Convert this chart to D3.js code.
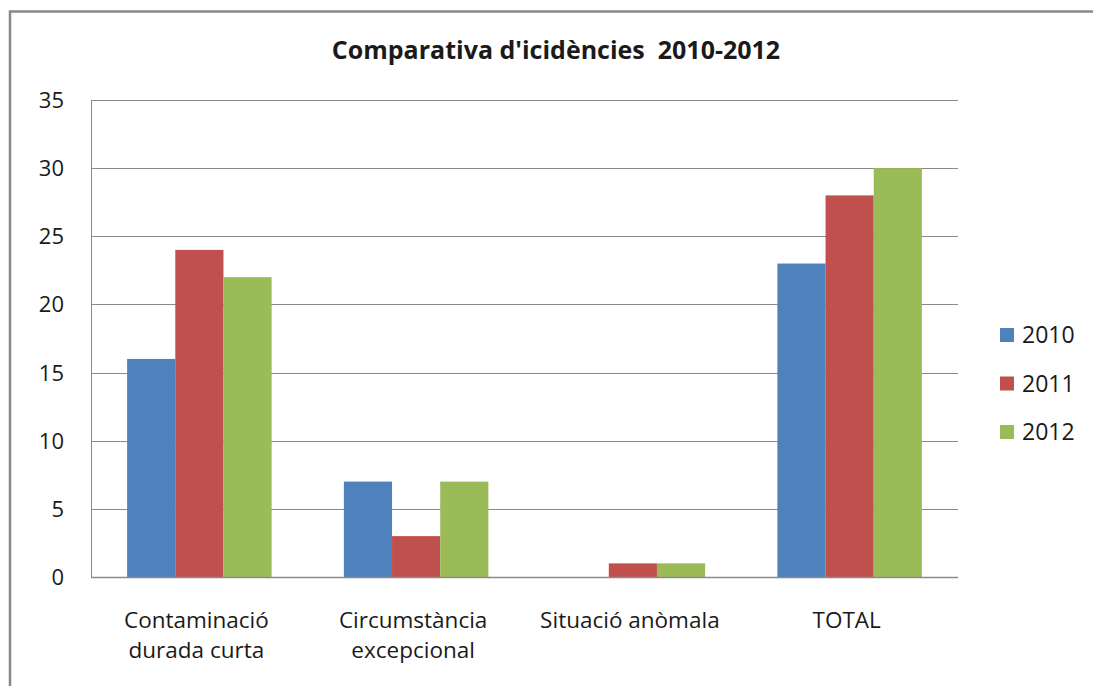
<!DOCTYPE html>
<html>
<head>
<meta charset="utf-8" />
<title>Comparativa d'icidències</title>
<style>
  body { margin: 0; background: #fff; }
  text { font-family: "Open Sans", "DejaVu Sans", sans-serif; fill: #1a1a1a; }
</style>
</head>
<body>
<svg id="chart"></svg>
<script src="https://cdn.jsdelivr.net/npm/d3@7"></script>
<script>

var categories = [["Contaminació", "durada curta"], ["Circumstància", "excepcional"], ["Situació anòmala"], ["TOTAL"]];
var years = ["2010", "2011", "2012"];
var values2010 = [16, 7, 0, 23];
var values2011 = [24, 3, 1, 28];
var values2012 = [22, 7, 1, 30];
var yTicks = [0, 5, 10, 15, 20, 25, 30, 35];
var colors = ["#4f81bd", "#c0504d", "#9bbb59"];

var series = [values2010, values2011, values2012];

var width = 1093, height = 686;
var pLeft = 91, pRight = 958, pTop = 100, pBottom = 577;

var svg = d3.select("#chart")
            .attr("width", width)
            .attr("height", height);

// chart border
svg.append("rect")
   .attr("x", 10).attr("y", 11.5)
   .attr("width", width + 20).attr("height", height + 20)
   .attr("fill", "none")
   .attr("stroke", "#888")
   .attr("stroke-width", 2.5);

var x = d3.scaleBand()
          .domain(d3.range(categories.length))
          .range([pLeft, pRight]);

var barW = x.bandwidth() / 4.5;
var xs = d3.scaleBand()
           .domain(years)
           .range([barW * 0.75, x.bandwidth() - barW * 0.75]);

var y = d3.scaleLinear()
          .domain([0, 35])
          .range([pBottom, pTop]);

// gridlines
svg.append("g")
   .selectAll("line")
   .data(yTicks)
   .enter().append("line")
   .attr("x1", pLeft).attr("x2", pRight)
   .attr("y1", function(d){ return Math.round(y(d)) + 0.5; })
   .attr("y2", function(d){ return Math.round(y(d)) + 0.5; })
   .attr("stroke", "#8a8a8a")
   .attr("stroke-width", 1);

// bars
svg.append("g")
   .selectAll("g")
   .data(series)
   .enter().append("g")
   .attr("fill", function(d, i){ return colors[i]; })
   .selectAll("rect")
   .data(function(d, i){ return d.map(function(v, j){ return {v: v, cat: j, year: years[i]}; }); })
   .enter().append("rect")
   .attr("x", function(d){ return x(d.cat) + xs(d.year); })
   .attr("width", xs.bandwidth())
   .attr("y", function(d){ return y(d.v); })
   .attr("height", function(d){ return y(0) - y(d.v); });

// axis lines
svg.append("line")
   .attr("x1", pLeft + 0.5).attr("x2", pLeft + 0.5)
   .attr("y1", pTop).attr("y2", pBottom + 1)
   .attr("stroke", "#8a8a8a");
svg.append("line")
   .attr("x1", pLeft).attr("x2", pRight)
   .attr("y1", Math.round(y(0)) + 0.5).attr("y2", Math.round(y(0)) + 0.5)
   .attr("stroke", "#8a8a8a")
   .attr("stroke-width", 1.5);

// y tick labels
svg.append("g")
   .selectAll("text")
   .data(yTicks)
   .enter().append("text")
   .attr("x", 64)
   .attr("y", function(d){ return y(d) + 8; })
   .attr("text-anchor", "end")
   .attr("font-size", "22px")
   .text(function(d){ return d; });

// x labels
var xl = svg.append("g")
   .selectAll("text")
   .data(categories)
   .enter().append("text")
   .attr("text-anchor", "middle")
   .attr("font-size", "22.5px")
   .attr("transform", function(d, i){ return "translate(" + (x(i) + x.bandwidth() / 2 - 3) + ",628)"; });

xl.selectAll("tspan")
  .data(function(d){ return d; })
  .enter().append("tspan")
  .attr("x", 0)
  .attr("dy", function(d, i){ return i === 0 ? 0 : 30; })
  .text(function(d){ return d; });

// title
svg.append("text")
   .attr("x", 556)
   .attr("y", 59)
   .attr("text-anchor", "middle")
   .attr("font-size", "25px")
   .attr("font-weight", "bold")
   .attr("xml:space", "preserve")
   .style("white-space", "pre")
   .text("Comparativa d'icidències  2010-2012");

// legend
var legend = svg.append("g")
   .selectAll("g")
   .data(years)
   .enter().append("g")
   .attr("transform", function(d, i){ return "translate(1000," + (335 + i * 48.5) + ")"; });

legend.append("rect")
      .attr("x", 0).attr("y", -7)
      .attr("width", 14).attr("height", 14)
      .attr("fill", function(d, i){ return colors[i]; });

legend.append("text")
      .attr("x", 22)
      .attr("y", 8)
      .attr("font-size", "23px")
      .text(function(d){ return d; });

</script>
</body>
</html>
